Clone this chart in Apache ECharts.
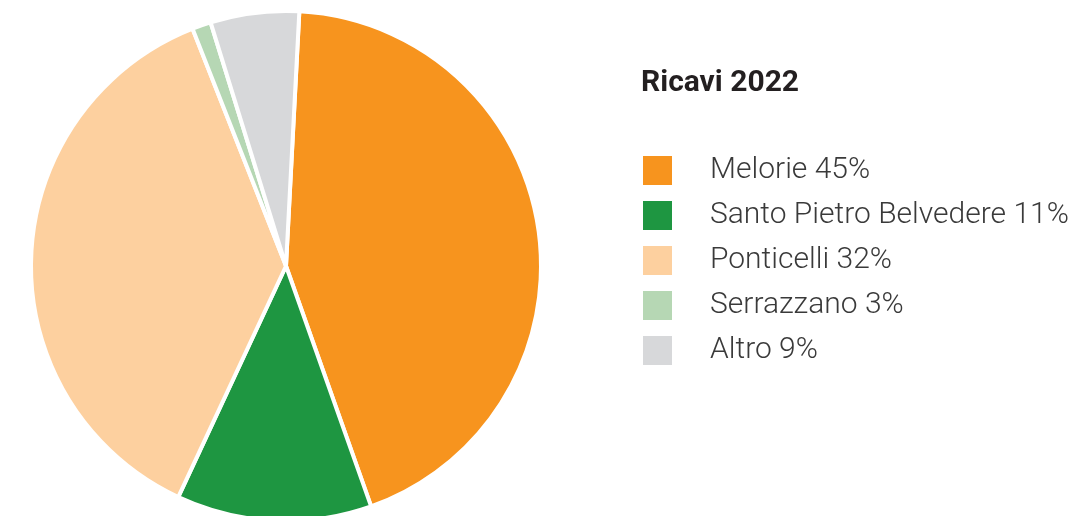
<!DOCTYPE html>
<html>
<head>
<meta charset="utf-8">
<title>Ricavi 2022</title>
<script src="https://cdn.jsdelivr.net/npm/echarts@6/dist/echarts.min.js"></script>
<style>
  html, body { margin: 0; padding: 0; background: #fff; }
  #chart { width: 1080px; height: 516px; }
</style>
</head>
<body>
<div id="chart"></div>
<script>
// dati
var categories = ['Melorie', 'Santo Pietro Belvedere', 'Ponticelli', 'Serrazzano', 'Altro']
// quote percentuali riportate in legenda
var legendPct = [45, 11, 32, 3, 9]
// ampiezza delle fette come disegnate (gradi)
var sliceValues = [157.5, 44.5, 133.5, 4.3, 20.2]
var colors = ['#F7941E', '#1E9641', '#FDD09F', '#B6D7B4', '#D7D8DA']

var chart = echarts.init(document.getElementById('chart'))

var labelMap = {}
categories.forEach(function(c, i) {
  labelMap[c] = c + ' ' + legendPct[i] + '%'
})

chart.setOption({
  animation: false,
  color: colors,
  title: {
    text: 'Ricavi 2022',
    left: 641,
    top: 68,
    padding: 0,
    textStyle: {
      fontFamily: 'Roboto',
      fontWeight: 'bold',
      fontSize: 30,
      color: '#231f20'
    }
  },
  legend: {
    orient: 'vertical',
    left: 641,
    top: 154,
    padding: 0,
    itemWidth: 31,
    itemHeight: 31,
    itemGap: 12,
    icon: 'rect',
    selectedMode: false,
    data: categories,
    formatter: function(name) {
      return labelMap[name]
    },
    textStyle: {
      fontFamily: 'Roboto',
      fontWeight: 300,
      fontSize: 30,
      lineHeight: 31,
      color: '#3a3a3a',
      padding: [0, 0, 0, 32]
    }
  },
  series: [{
    type: 'pie',
    center: [286, 266],
    radius: 255,
    startAngle: 87,
    clockwise: true,
    silent: true,
    label: { show: false },
    labelLine: { show: false },
    itemStyle: {
      borderColor: '#fff',
      borderWidth: 4
    },
    data: categories.map(function(c, i) {
      return { name: c, value: sliceValues[i] }
    })
  }]
})
</script>
</body>
</html>
